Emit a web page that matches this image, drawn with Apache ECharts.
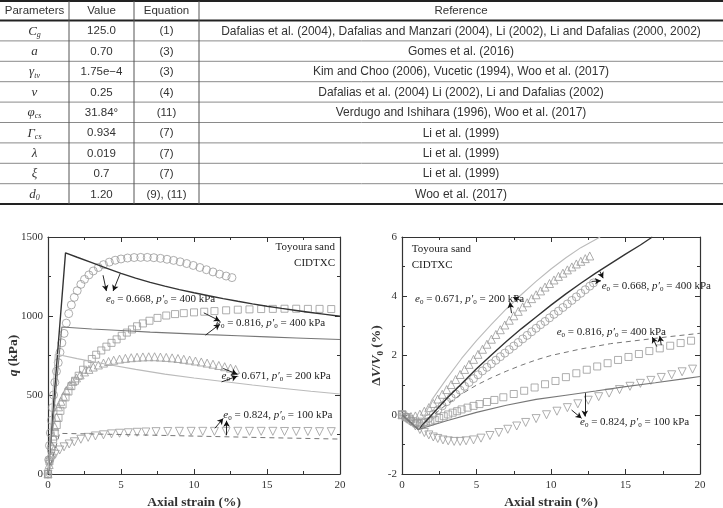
<!DOCTYPE html>
<html>
<head>
<meta charset="utf-8">
<script src="https://cdn.jsdelivr.net/npm/echarts@6/dist/echarts.min.js"></script>
<style>
  html, body { margin: 0; padding: 0; background: #fff; }
  #chart { width: 723px; height: 508px; }
</style>
</head>
<body>
<div id="chart"></div>
<script>
// ---- table data ----
const tableHeaders = ['Parameters', 'Value', 'Equation', 'Reference']
const paramSymbols = ['{i|C}{s|g}', '{i|a}', '{i|γ}{s|tv}', '{i|ν}', '{i|φ}{s|cs}', '{i|Γ}{s|cs}', '{i|λ}', '{i|ξ}', '{i|d}{s|0}']
const paramValues = ['125.0', '0.70', '1.75e\u22124', '0.25', '31.84°', '0.934', '0.019', '0.7', '1.20']
const paramEquations = ['(1)', '(3)', '(3)', '(4)', '(11)', '(7)', '(7)', '(7)', '(9), (11)']
const paramRefs = [
  'Dafalias et al. (2004), Dafalias and Manzari (2004), Li (2002), Li and Dafalias (2000, 2002)',
  'Gomes et al. (2016)',
  'Kim and Choo (2006), Vucetic (1994), Woo et al. (2017)',
  'Dafalias et al. (2004) Li (2002), Li and Dafalias (2002)',
  'Verdugo and Ishihara (1996), Woo et al. (2017)',
  'Li et al. (1999)',
  'Li et al. (1999)',
  'Li et al. (1999)',
  'Woo et al. (2017)'
]

// ---- left chart: deviator stress q (kPa) vs axial strain (%) ----
const qExp668 = [[0,0],[0.05,90],[0.1,180],[0.16,260],[0.23,340],[0.3,420],[0.38,500],[0.47,580],[0.58,650],[0.7,705],[0.82,770],[0.95,830],[1.1,890],[1.25,955],[1.42,1015],[1.6,1070],[1.8,1118],[2.0,1160],[2.25,1200],[2.5,1232],[2.8,1260],[3.1,1285],[3.45,1307],[3.8,1325],[4.2,1341],[4.6,1353],[5.0,1361],[5.45,1367],[5.9,1370],[6.35,1371],[6.8,1371],[7.25,1369],[7.7,1365],[8.15,1359],[8.6,1352],[9.05,1343],[9.5,1332],[9.95,1320],[10.4,1307],[10.85,1293],[11.3,1279],[11.75,1265],[12.2,1253],[12.6,1243]]
const qExp816 = [[0,0],[0.1,80],[0.22,160],[0.35,220],[0.46,260],[0.6,310],[0.72,355],[0.85,400],[1.0,440],[1.2,485],[1.4,522],[1.6,556],[1.85,590],[2.1,622],[2.4,660],[2.7,695],[3.0,728],[3.3,755],[3.65,782],[4.0,806],[4.35,830],[4.7,852],[5.05,875],[5.4,895],[5.75,915],[6.1,935],[6.5,953],[6.95,970],[7.5,988],[8.1,1003],[8.7,1012],[9.3,1018],[10.0,1023],[10.7,1027],[11.4,1031],[12.2,1036],[13.0,1040],[13.8,1042],[14.6,1044],[15.4,1045],[16.2,1046],[17.0,1046],[17.8,1045],[18.6,1045],[19.4,1044]]
const qExp671 = [[0,0],[0.08,60],[0.16,120],[0.25,180],[0.35,240],[0.46,300],[0.58,360],[0.72,425],[0.88,460],[1.05,492],[1.25,528],[1.47,560],[1.7,586],[1.95,608],[2.2,627],[2.5,646],[2.8,662],[3.1,677],[3.45,690],[3.8,702],[4.15,712],[4.5,720],[4.9,727],[5.3,732],[5.7,736],[6.1,739],[6.5,741],[6.9,742],[7.3,742],[7.7,740],[8.1,738],[8.5,735],[8.9,731],[9.3,726],[9.7,721],[10.1,715],[10.5,709],[10.9,702],[11.3,695],[11.7,687],[12.1,679],[12.5,670],[12.85,662]]
const qExp824 = [[0,0],[0.12,60],[0.3,100],[0.5,125],[0.8,152],[1.1,172],[1.45,190],[1.8,204],[2.25,220],[2.75,232],[3.25,241],[3.8,248],[4.35,254],[4.9,258],[5.5,261],[6.1,264],[6.7,266],[7.4,268],[8.2,269],[9.0,270],[9.8,270],[10.6,270],[11.4,270],[12.2,270],[13.0,270],[13.8,270],[14.6,270],[15.4,270],[16.2,269],[17.0,269],[17.8,269],[18.6,268],[19.4,268]]
const qModel668 = [[0,0],[1.2,1400],[2,1372],[3,1338],[4,1303],[5,1270],[6,1240],[7,1213],[8,1189],[9,1167],[10,1147],[11,1128],[12,1110],[13,1093],[14,1077],[15,1062],[16,1048],[17,1035],[18,1022],[19,1010],[20,998]]
const qModel816 = [[0,0],[0.95,930],[3,918],[5,908],[7,898],[9,890],[11,882],[13,875],[15,868],[17,861],[20,851]]
const qModel671 = [[0,0],[0.5,760],[2,730],[4,695],[6,662],[8,632],[10,608],[12,585],[14,563],[16,543],[18,524],[20,506]]
const qModel824 = [[0,0],[0.8,257],[5,250],[10,240],[15,230],[20,221]]

// ---- right chart: volumetric strain (%) vs axial strain (%) ----
const vExp668 = [[0,0],[0.3,-0.1],[0.6,-0.2],[0.9,-0.3],[1.2,-0.32],[1.5,-0.25],[1.8,-0.12],[2.1,0.02],[2.4,0.16],[2.7,0.3],[3.0,0.44],[3.3,0.57],[3.6,0.7],[3.9,0.83],[4.2,0.96],[4.5,1.09],[4.8,1.22],[5.1,1.35],[5.4,1.48],[5.7,1.6],[6.0,1.72],[6.3,1.84],[6.6,1.96],[6.9,2.08],[7.2,2.2],[7.5,2.32],[7.8,2.44],[8.1,2.56],[8.4,2.68],[8.7,2.8],[9.0,2.92],[9.3,3.04],[9.6,3.15],[9.9,3.27],[10.2,3.39],[10.5,3.5],[10.8,3.62],[11.1,3.74],[11.4,3.86],[11.7,3.98],[12.0,4.1],[12.3,4.22],[12.6,4.34],[12.85,4.45]]
const vExp671 = [[0,0],[0.3,-0.03],[0.6,-0.06],[0.9,-0.04],[1.2,0.02],[1.5,0.12],[1.8,0.24],[2.1,0.38],[2.4,0.53],[2.7,0.69],[3.0,0.85],[3.3,1.02],[3.6,1.19],[3.9,1.36],[4.2,1.53],[4.5,1.7],[4.8,1.87],[5.1,2.04],[5.4,2.21],[5.7,2.38],[6.0,2.55],[6.3,2.71],[6.6,2.87],[6.9,3.03],[7.2,3.19],[7.5,3.34],[7.8,3.49],[8.1,3.64],[8.4,3.78],[8.7,3.92],[9.0,4.05],[9.3,4.18],[9.6,4.31],[9.9,4.43],[10.2,4.55],[10.5,4.67],[10.8,4.78],[11.1,4.89],[11.4,4.99],[11.7,5.09],[12.0,5.18],[12.3,5.27],[12.6,5.36]]
const vExp816 = [[0,0],[0.25,-0.08],[0.5,-0.15],[0.75,-0.22],[1.0,-0.27],[1.3,-0.28],[1.6,-0.26],[1.9,-0.22],[2.2,-0.17],[2.5,-0.11],[2.8,-0.05],[3.1,0.01],[3.4,0.07],[3.7,0.12],[4.0,0.18],[4.4,0.24],[4.8,0.3],[5.2,0.36],[5.7,0.43],[6.2,0.5],[6.8,0.59],[7.5,0.7],[8.2,0.81],[8.9,0.92],[9.6,1.03],[10.3,1.14],[11.0,1.27],[11.7,1.4],[12.4,1.52],[13.1,1.63],[13.8,1.74],[14.5,1.85],[15.2,1.95],[15.9,2.05],[16.6,2.15],[17.3,2.24],[18.0,2.33],[18.7,2.42],[19.4,2.5]]
const vExp824 = [[0,0],[0.3,-0.1],[0.6,-0.24],[0.9,-0.38],[1.2,-0.5],[1.5,-0.6],[1.8,-0.68],[2.1,-0.75],[2.4,-0.8],[2.75,-0.85],[3.1,-0.88],[3.5,-0.9],[3.9,-0.9],[4.3,-0.88],[4.8,-0.85],[5.3,-0.79],[5.9,-0.7],[6.5,-0.6],[7.1,-0.49],[7.7,-0.38],[8.3,-0.26],[9.0,-0.13],[9.7,0.0],[10.4,0.12],[11.1,0.24],[11.8,0.37],[12.5,0.49],[13.2,0.61],[13.9,0.73],[14.6,0.85],[15.3,0.96],[16.0,1.06],[16.7,1.16],[17.4,1.26],[18.1,1.35],[18.8,1.45],[19.5,1.54]]
const vModel668 = [[0,0],[1.1,-0.5],[2,0.0],[3,0.55],[4,1.05],[5,1.55],[6,2.02],[7,2.47],[8,2.9],[9,3.3],[10,3.7],[11,4.08],[12,4.44],[13,4.78],[14,5.1],[15,5.42],[16,5.73],[16.8,6.0]]
const vModel671 = [[0,0],[1.1,-0.5],[2,0.5],[3,1.22],[4,1.9],[5,2.5],[6,3.05],[7,3.57],[8,4.05],[9,4.5],[10,4.92],[11,5.3],[12,5.64],[13.3,6.0]]
const vModel816 = [[0,0],[1.1,-0.5],[2,-0.05],[3,0.35],[4,0.7],[5,1.0],[6,1.25],[7,1.47],[8,1.67],[9,1.85],[10,2.0],[12,2.22],[14,2.4],[16,2.52],[18,2.64],[20,2.75]]
const vModel824 = [[0,0],[1.1,-0.5],[3,-0.2],[5,0.08],[7,0.32],[9,0.52],[11,0.66],[13,0.8],[15,0.95],[17,1.08],[19,1.22],[20,1.29]]

// annotation arrows [from, to] in data units
const arrowsLeft = [
  [[3.77, 1258], [4.0, 1158]], [[4.94, 1268], [4.46, 1158]],
  [[10.67, 1020], [11.77, 969]], [[10.79, 879], [11.77, 948]],
  [[12.0, 668], [12.96, 632]], [[11.89, 583], [12.96, 619]],
  [[11.43, 289], [12.0, 352]], [[12.23, 246], [12.23, 337]]
]
const arrowsRight = [
  [[8.02, 3.85], [7.46, 3.96]], [[7.35, 3.43], [7.24, 3.8]],
  [[13.28, 4.84], [13.5, 4.61]], [[12.72, 4.5], [13.35, 4.52]],
  [[17.1, 2.3], [16.8, 2.62]], [[17.4, 2.35], [17.3, 2.66]],
  [[12.27, 0.73], [12.27, -0.06]], [[11.38, 0.16], [12.05, -0.12]]
]
const labelsLeft = ['0.668|400', '0.816|400', '0.671|200', '0.824|100']
const labelsRight = ['0.671|200', '0.668|400', '0.816|400', '0.824|100']

const serif = 'Liberation Serif'
const sans = 'Liberation Sans'
const markerColor = '#9a9a9a'

function condLabel (s) {
  let p = s.split('|')
  return '{i|e}{s|0} = ' + p[0] + ', {i|p\u2032}{s|0} = ' + p[1] + ' kPa'
}
const annoRich = {
  i: { fontFamily: serif, fontStyle: 'italic', fontSize: 11, fill: '#222', lineHeight: 13 },
  s: { fontFamily: serif, fontSize: 7, fill: '#222', verticalAlign: 'bottom', lineHeight: 10 }
}

function annoText (x, y, s) {
  return {
    type: 'text', x: x, y: y,
    style: { text: condLabel(s), fontFamily: serif, fontSize: 11, fill: '#222', align: 'left', verticalAlign: 'middle', rich: annoRich }
  }
}
function plainText (x, y, s, align) {
  return {
    type: 'text', x: x, y: y,
    style: { text: s, fontFamily: serif, fontSize: 11, fill: '#222', align: align, verticalAlign: 'middle' }
  }
}

// table graphics
let graphics = []
const colX = [0, 69, 134, 199, 723]
const headH = 20.5
const rowH = 20.4
const tableBottom = headH + rowH * paramSymbols.length
function hline (y, w, c) {
  return { type: 'line', shape: { x1: 0, y1: y, x2: 723, y2: y }, style: { stroke: c, lineWidth: w } }
}
graphics.push(hline(1, 2, '#222'))
graphics.push(hline(headH, 2, '#222'))
for (let i = 1; i < paramSymbols.length; i++) {
  graphics.push(hline(headH + rowH * i, 1, '#8a8a8a'))
}
graphics.push(hline(tableBottom, 2, '#222'))
for (let c = 1; c < 4; c++) {
  graphics.push({ type: 'line', shape: { x1: colX[c], y1: 1, x2: colX[c], y2: tableBottom }, style: { stroke: '#555', lineWidth: 1 } })
}
function cellText (c, y, txt, rich, size) {
  let st = { text: txt, fontFamily: sans, fontSize: size || 11.5, fill: '#333', align: 'center', verticalAlign: 'middle' }
  if (rich) st.rich = rich
  return { type: 'text', x: (colX[c] + colX[c + 1]) / 2, y: y, style: st }
}
tableHeaders.forEach((h, c) => graphics.push(cellText(c, headH / 2 + 0.5, h)))
const symRich = {
  i: { fontFamily: serif, fontStyle: 'italic', fontSize: 13, fill: '#333', lineHeight: 15 },
  s: { fontFamily: serif, fontStyle: 'italic', fontSize: 8, fill: '#333', verticalAlign: 'bottom', lineHeight: 11 }
}
for (let r = 0; r < paramSymbols.length; r++) {
  let y = headH + rowH * r + rowH / 2 + 0.5
  graphics.push(cellText(0, y, paramSymbols[r], symRich))
  graphics.push(cellText(1, y, paramValues[r]))
  graphics.push(cellText(2, y, paramEquations[r]))
  graphics.push(cellText(3, y, paramRefs[r], null, 12))
}

// chart annotations (text layout)
graphics.push(plainText(335, 247, 'Toyoura sand', 'right'))
graphics.push(plainText(335, 263, 'CIDTXC', 'right'))
graphics.push(annoText(106, 299, labelsLeft[0]))
graphics.push(annoText(216, 322.7, labelsLeft[1]))
graphics.push(annoText(221.5, 376, labelsLeft[2]))
graphics.push(annoText(223.3, 415, labelsLeft[3]))
graphics.push(plainText(411.7, 249.3, 'Toyoura sand', 'left'))
graphics.push(plainText(411.7, 265, 'CIDTXC', 'left'))
graphics.push(annoText(415, 299, labelsRight[0]))
graphics.push(annoText(601.7, 286, labelsRight[1]))
graphics.push(annoText(556.7, 332.3, labelsRight[2]))
graphics.push(annoText(580, 421.7, labelsRight[3]))

// axes
const tickLabel = { fontFamily: serif, fontSize: 11, color: '#333', formatter: v => String(v) }
const axisLine = { onZero: false, lineStyle: { color: '#333', width: 1.2 } }
function xAxisDef (grid, pos, show) {
  return {
    type: 'value', gridIndex: grid, position: pos, min: 0, max: 20, interval: 5,
    axisLine: axisLine,
    axisTick: { inside: true, length: 5, lineStyle: { color: '#333' } },
    minorTick: { show: true, splitNumber: 2, length: 3, lineStyle: { color: '#333' } },
    splitLine: { show: false },
    axisLabel: Object.assign({ show: show, margin: 6 }, tickLabel),
    name: show ? 'Axial strain (%)' : '',
    nameLocation: 'middle', nameGap: 22, nameMoveOverlap: false,
    nameTextStyle: { fontFamily: serif, fontSize: 13.5, fontWeight: 'bold', color: '#333' }
  }
}
function yAxisDef (grid, pos, show, min, max, interval, name, gap) {
  return {
    type: 'value', gridIndex: grid, position: pos, min: min, max: max, interval: interval,
    axisLine: axisLine,
    axisTick: { inside: true, length: 5, lineStyle: { color: '#333' } },
    minorTick: { show: true, splitNumber: 2, length: 3, lineStyle: { color: '#333' } },
    splitLine: { show: false },
    axisLabel: Object.assign({ show: show, margin: 5 }, tickLabel),
    name: show ? name : '',
    nameLocation: 'middle', nameGap: gap, nameMoveOverlap: false,
    nameTextStyle: {
      fontFamily: serif, fontSize: 13.5, fontWeight: 'bold', color: '#333',
      rich: {
        i: { fontFamily: serif, fontStyle: 'italic', fontWeight: 'bold', fontSize: 13.5, color: '#333', lineHeight: 16 },
        s: { fontFamily: serif, fontWeight: 'bold', fontSize: 9, color: '#333', verticalAlign: 'bottom', lineHeight: 12 }
      }
    }
  }
}

function lineSeries (x, y, data, color, width, type) {
  return {
    type: 'line', xAxisIndex: x, yAxisIndex: y, data: data, showSymbol: false, symbol: 'none',
    lineStyle: { color: color, width: width, type: type || 'solid' }, z: 3, silent: true
  }
}
function markerSeries (x, y, data, symbol, size, rotate) {
  return {
    type: 'scatter', xAxisIndex: x, yAxisIndex: y, data: data, symbol: symbol, symbolSize: size,
    symbolRotate: rotate || 0,
    itemStyle: { color: 'rgba(255,255,255,0)', borderColor: markerColor, borderWidth: 1 }, z: 2, silent: true
  }
}
function arrowMarks (list) {
  return {
    silent: true, symbol: ['none', 'arrow'], symbolSize: [5, 6],
    lineStyle: { color: '#111', width: 0.9, type: 'solid' },
    label: { show: false },
    data: list.map(a => [{ coord: a[0] }, { coord: a[1] }])
  }
}

const chart = echarts.init(document.getElementById('chart'))
let leftDark = lineSeries(0, 0, qModel668, '#333', 1.4)
leftDark.markLine = arrowMarks(arrowsLeft)
let rightDark = lineSeries(2, 2, vModel668, '#333', 1.4)
rightDark.markLine = arrowMarks(arrowsRight)

chart.setOption({
  animation: false,
  backgroundColor: '#fff',
  grid: [
    { left: 48, top: 237, width: 292, height: 237, outerBoundsMode: 'none', containLabel: false },
    { left: 402, top: 237, width: 298, height: 237, outerBoundsMode: 'none', containLabel: false }
  ],
  xAxis: [xAxisDef(0, 'bottom', true), xAxisDef(0, 'top', false), xAxisDef(1, 'bottom', true), xAxisDef(1, 'top', false)],
  yAxis: [
    yAxisDef(0, 'left', true, 0, 1500, 500, '{i|q} (kPa)', 26),
    yAxisDef(0, 'right', false, 0, 1500, 500, '', 0),
    yAxisDef(1, 'left', true, -2, 6, 2, '\u0394{i|V}/{i|V}{s|0} (%)', 17),
    yAxisDef(1, 'right', false, -2, 6, 2, '', 0)
  ],
  graphic: graphics,
  series: [
    markerSeries(0, 0, qExp668, 'circle', 8),
    markerSeries(0, 0, qExp816, 'rect', 7),
    markerSeries(0, 0, qExp671, 'triangle', 8),
    markerSeries(0, 0, qExp824, 'triangle', 8, 180),
    leftDark,
    lineSeries(0, 0, qModel816, '#777', 1.1),
    lineSeries(0, 0, qModel671, '#bbb', 1.1),
    lineSeries(0, 0, qModel824, '#777', 1.0, [5, 4]),
    markerSeries(2, 2, vExp668, 'circle', 8),
    markerSeries(2, 2, vExp816, 'rect', 7),
    markerSeries(2, 2, vExp671, 'triangle', 8),
    markerSeries(2, 2, vExp824, 'triangle', 8, 180),
    rightDark,
    lineSeries(2, 2, vModel671, '#bbb', 1.1),
    lineSeries(2, 2, vModel816, '#777', 1.0, [5, 4]),
    lineSeries(2, 2, vModel824, '#777', 1.1)
  ]
})
</script>
</body>
</html>
